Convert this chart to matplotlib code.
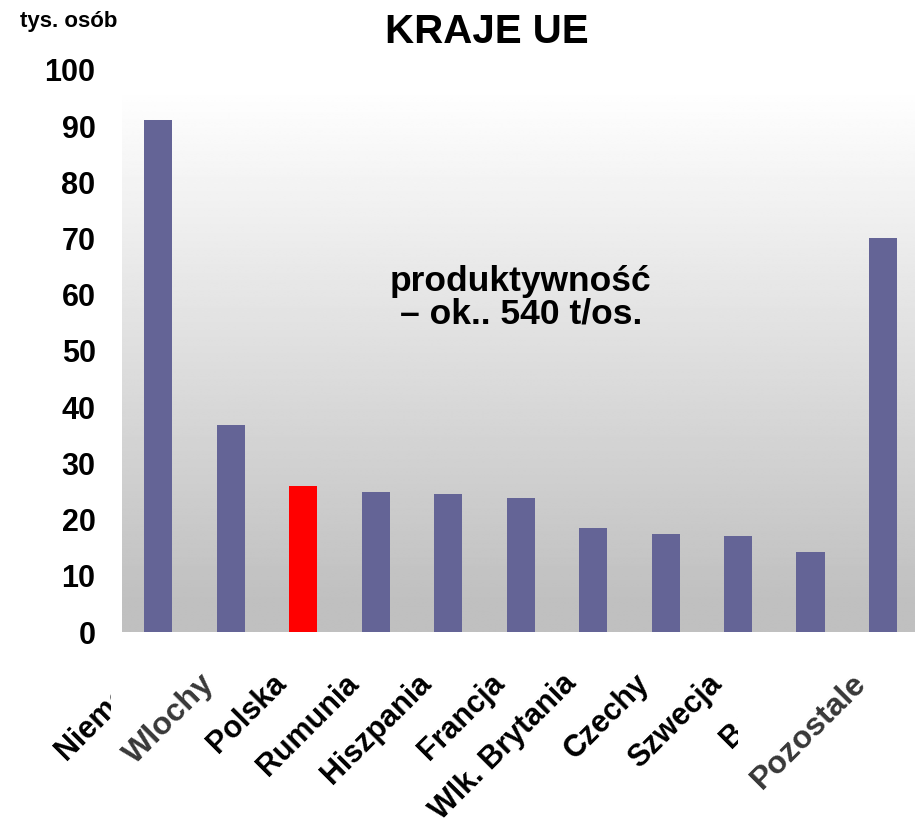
import numpy as np
import matplotlib
matplotlib.use('Agg')
import matplotlib.pyplot as plt
from matplotlib.transforms import ScaledTranslation, IdentityTransform
from matplotlib.patches import Rectangle

plt.rcParams['font.family'] = ['Liberation Sans', 'DejaVu Sans']
plt.rcParams['font.weight'] = 'bold'

# dane (tys. osob)
kraje = ['Niemcy', 'Wlochy', 'Polska', 'Rumunia', 'Hiszpania', 'Francja',
         'Wlk. Brytania', 'Czechy', 'Szwecja', 'Belgia', 'Pozostale']
zatrudnienie = [91.1, 36.8, 26.0, 24.9, 24.6, 23.8, 18.5, 17.4, 17.1, 14.2, 70.1]
kolory = ['#646496', '#646496', '#ff0000', '#646496', '#646496', '#646496',
          '#646496', '#646496', '#646496', '#646496', '#646496']
szare_etykiety = ['Wlochy', 'Pozostale']

fig = plt.figure(figsize=(9.15, 8.21), dpi=100)
ax = fig.add_axes([122/915, 189/821, 793/915, 562/821])

x = np.arange(len(kraje))
xmin, xmax = -0.5, 10.44
grad_top = 96.8

# gradient tla (bialy u gory -> szary u dolu)
v = np.linspace(0, grad_top, 300)
g = np.clip(192 + (v - 5.7) / (grad_top - 5.7) * 63, 192, 255) / 255
img = np.repeat(g[:, None], 2, axis=1)
ax.imshow(img, cmap='gray', vmin=0, vmax=1, origin='lower', aspect='auto',
          extent=[xmin, xmax, 0, grad_top], zorder=0, interpolation='bilinear')

ax.bar(x, zatrudnienie, width=0.39, color=kolory, zorder=2)

ax.set_xlim(xmin, xmax)
ax.set_ylim(0, 100)
ax.set_yticks(range(0, 101, 10))
ax.tick_params(axis='y', length=0, pad=19, labelsize=22)
ax.set_xticks([])
for s in ax.spines.values():
    s.set_visible(False)

# etykiety osi x
off = ScaledTranslation(-0.21, -0.47, fig.dpi_scale_trans)
etykiety = []
for i, k in enumerate(kraje):
    szary = k in szare_etykiety
    t = ax.text(i, 0, k, transform=ax.get_xaxis_transform() + off,
                rotation=45, rotation_mode='anchor', ha='right', va='center',
                fontsize=23 if szary else 22, fontweight='bold',
                color='#383838' if szary else 'black',
                zorder=5 if szary else 3, clip_on=False)
    etykiety.append((t, szary))

# biale tlo pod szarymi etykietami (zaslania sasiednie napisy)
fig.canvas.draw()
for t, szary in etykiety:
    if szary:
        bb = t.get_window_extent()
        y0 = bb.y0 + 0.2 * bb.height
        ax.add_patch(Rectangle((bb.x0 - 8, y0), 0.75 * bb.width + 8, bb.y1 + 5 - y0,
                               transform=IdentityTransform(), facecolor='white',
                               edgecolor='none', zorder=4, clip_on=False))

ax.text(5.0, 59.5, 'produktywność\n– ok.. 540 t/os.', ha='center', va='center',
        fontsize=25.5, fontweight='bold', linespacing=1.0, zorder=6)

fig.text(487/915, 1 - 32/821, 'KRAJE UE', ha='center', va='center',
         fontsize=29, fontweight='bold')
fig.text(69/915, 1 - 22/821, 'tys. osób', ha='center', va='center',
         fontsize=16, fontweight='bold')

fig.savefig('out.png', dpi=100)
